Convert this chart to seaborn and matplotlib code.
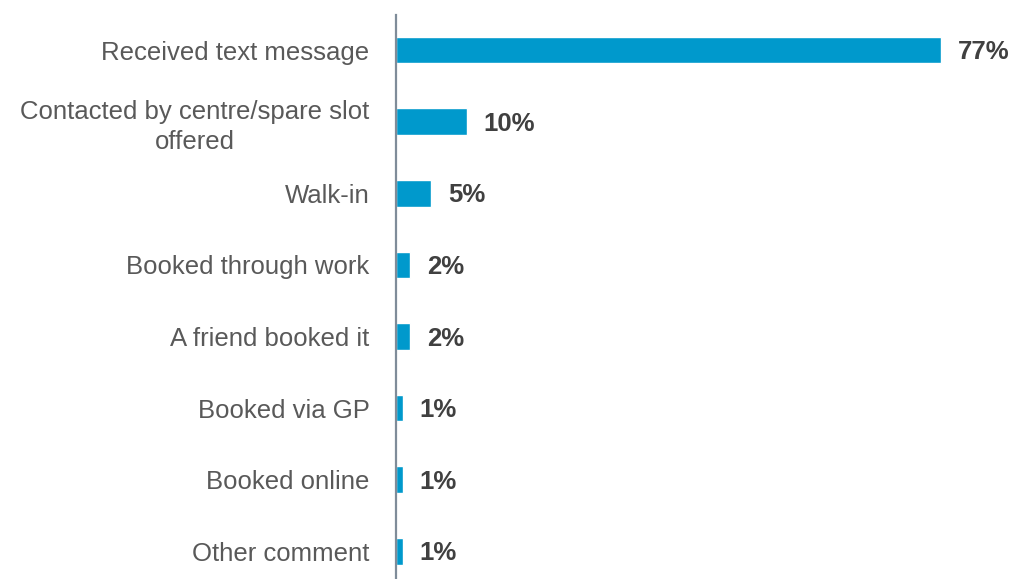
import matplotlib
matplotlib.use("Agg")
import matplotlib.pyplot as plt
import seaborn as sns
import pandas as pd

categories = [
    "Received text message",
    "Contacted by centre/spare slot\noffered",
    "Walk-in",
    "Booked through work",
    "A friend booked it",
    "Booked via GP",
    "Booked online",
    "Other comment",
]
values = [77, 10, 5, 2, 2, 1, 1, 1]

df = pd.DataFrame({"category": categories, "share": values})

sns.set_theme(style="white")
plt.rcParams["font.family"] = ["Liberation Sans", "DejaVu Sans"]

fig = plt.figure(figsize=(10.11, 5.79), dpi=100)
ax = fig.add_axes([396 / 1011, 0.0, 615 / 1011, (579 - 15) / 579])

sns.barplot(data=df, x="share", y="category", orient="h", color="#0099CC",
            saturation=1, width=0.37, ax=ax)

ax.set_xlim(0, 615 / 7.08)
ax.set_ylim(7.387, -0.49)

for i, v in enumerate(values):
    ax.annotate(f"{v}%", xy=(v, i), xytext=(12, -1.5), textcoords="offset points",
                va="center", ha="left", fontsize=18.5, fontweight="bold",
                color="#404040")

ax.set_xlabel("")
ax.set_ylabel("")
ax.set_xticks([])
ax.tick_params(axis="y", length=0, pad=19, labelsize=18.5, labelcolor="#595959")
for lbl in ax.get_yticklabels():
    lbl.set_multialignment("center")
    lbl.set_linespacing(1.3)

for side in ["top", "right", "bottom"]:
    ax.spines[side].set_visible(False)
ax.spines["left"].set_color("#7F8C99")
ax.spines["left"].set_linewidth(1.6)

fig.savefig("out.png", dpi=100)
